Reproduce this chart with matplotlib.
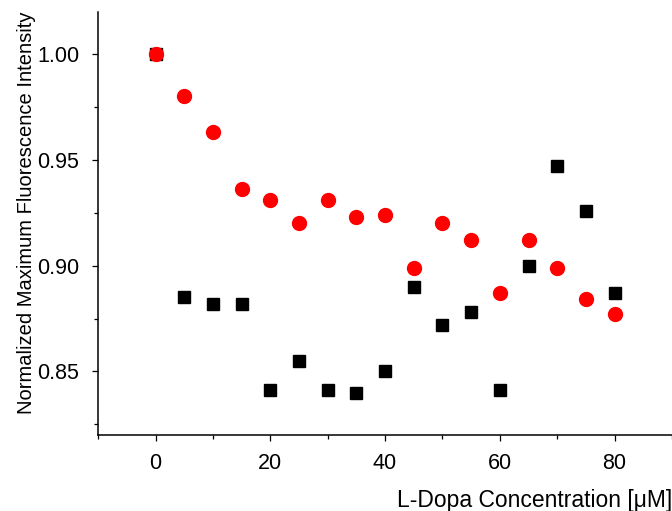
import numpy as np
import matplotlib
matplotlib.use('Agg')
import matplotlib.pyplot as plt
from matplotlib.ticker import MultipleLocator, FormatStrFormatter

plt.rcParams['font.family'] = ['Liberation Sans', 'DejaVu Sans']

# L-Dopa concentration (uM)
conc = [0, 5, 10, 15, 20, 25, 30, 35, 40, 45, 50, 55, 60, 65, 70, 75, 80]

# black squares
sq_vals = [1.000, 0.885, 0.882, 0.882, 0.841, 0.855, 0.841, 0.840, 0.850,
           0.890, 0.872, 0.878, 0.841, 0.900, 0.947, 0.926, 0.887]

# red circles
circ_vals = [1.000, 0.980, 0.963, 0.936, 0.931, 0.920, 0.931, 0.923, 0.924,
             0.899, 0.920, 0.912, 0.887, 0.912, 0.899, 0.884, 0.877]

fig = plt.figure(figsize=(6.72, 5.11), dpi=100)
ax = fig.add_axes([0.146, 0.149, 0.854, 0.828])

ax.plot(conc, sq_vals, 's', color='black', ms=8.6, mec='black', ls='none')
ax.plot(conc, circ_vals, 'o', color='#ff0000', ms=10, mec='#ff0000', ls='none')

ax.set_xlim(-10, 90)
ax.set_ylim(0.82, 1.02)

ax.xaxis.set_major_locator(MultipleLocator(20))
ax.xaxis.set_minor_locator(MultipleLocator(10))
ax.yaxis.set_major_locator(MultipleLocator(0.05))
ax.yaxis.set_minor_locator(MultipleLocator(0.025))
ax.yaxis.set_major_formatter(FormatStrFormatter('%.2f'))

for side in ['top', 'right']:
    ax.spines[side].set_visible(False)
for side in ['left', 'bottom']:
    ax.spines[side].set_linewidth(1.1)

ax.tick_params(which='major', direction='out', length=4.6, width=0.9,
               labelsize=15.5)
ax.tick_params(axis='x', which='major', pad=8.5)
ax.tick_params(axis='y', which='major', pad=9)
ax.tick_params(which='minor', direction='out', length=3.0, width=0.9)

ax.set_xlabel('L-Dopa Concentration [\u03bcM]', fontsize=16.5, loc='right',
              labelpad=11)
ax.set_ylabel('Normalized Maximum Fluorescence Intensity', fontsize=14.5)
ax.yaxis.set_label_coords(-0.108, 0.526)

fig.savefig('out.png', dpi=100)
